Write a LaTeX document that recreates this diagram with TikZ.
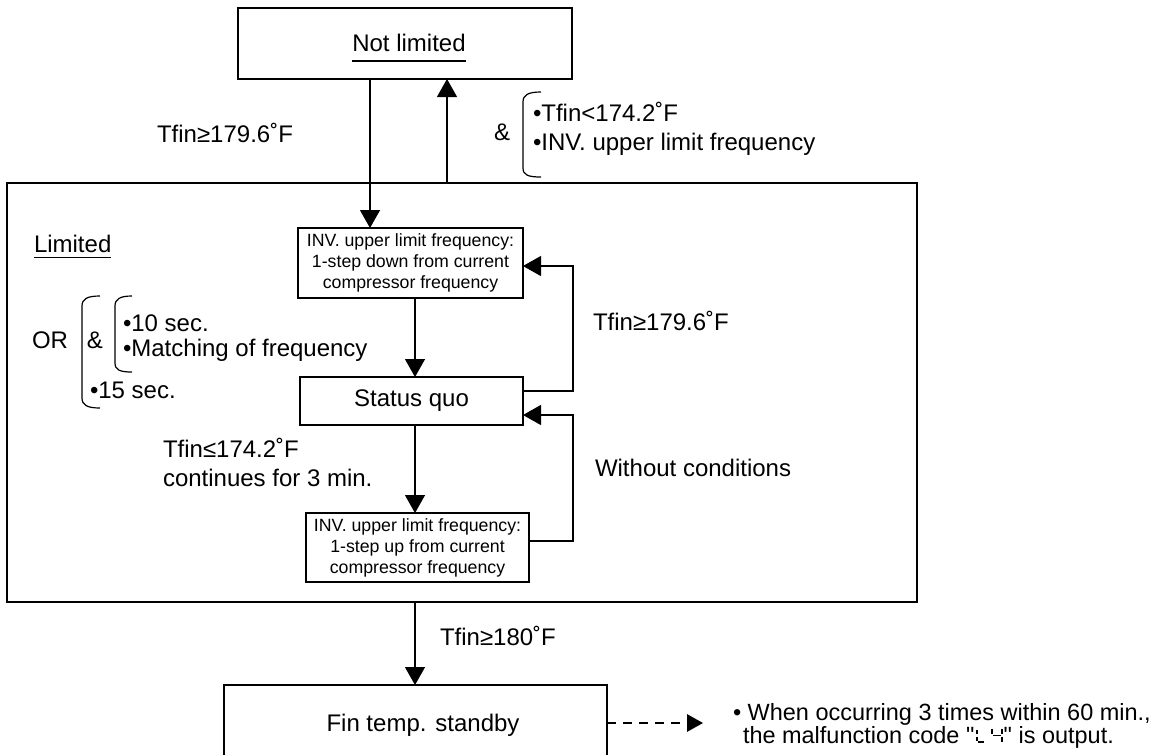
\documentclass[tikz,border=0pt]{standalone}
\usepackage{fontspec}
\setmainfont{Liberation Sans}
\usetikzlibrary{arrows.meta,calc}

\begin{document}
\begin{tikzpicture}[x=0.75pt,y=-0.75pt,
  every node/.style={inner sep=0pt, outer sep=0pt},
  lbl/.style={font=\fontsize{18}{21}\selectfont},
  note/.style={font=\fontsize{17.6}{20}\selectfont},
  small/.style={font=\fontsize{13.3}{15.75}\selectfont, align=center},
  box/.style={draw, line width=1.1pt},
  conn/.style={line width=1pt},
  arr/.style={conn, -{Triangle[length=13.5pt,width=15pt]}},
  dasharr/.style={line width=1.5pt, dash pattern=on 7pt off 5pt, -{Triangle[length=12pt,width=13pt]}},
  brace/.style={line width=0.9pt},
  seg/.style={line width=1.4pt},
]
\useasboundingbox (0,0) rectangle (1171,754);

% ---- boxes ----
\node[box, minimum width=250.5pt, minimum height=53.25pt] (nl) at (405,43.5) {};
\node[lbl, anchor=base] (nltxt) at (409,51) {Not limited};
\draw[line width=1pt] ([yshift=-7.5pt]nltxt.base west) -- ([yshift=-7.5pt]nltxt.base east);

\node[box, minimum width=682.5pt, minimum height=314.25pt] (lim) at (462,392.5) {};
\node[lbl, anchor=base west] (limtxt) at (34,252) {Limited};
\draw[line width=1pt] ([yshift=-4pt]limtxt.base west) -- ([yshift=-4pt]limtxt.base east);

\node[box, small, minimum width=168.75pt, minimum height=52.5pt] (inv1) at (410.5,263)
  {INV. upper limit frequency:\\1-step down from current\\compressor frequency};
\node[box, lbl, minimum width=167.25pt, minimum height=36pt] (sq) at (411.5,401) {Status quo};
\node[box, small, minimum width=167.25pt, minimum height=51.75pt] (inv2) at (417.5,547.5)
  {INV. upper limit frequency:\\1-step up from current\\compressor frequency};

\node[box, minimum width=287.25pt, minimum height=63.75pt] (fin) at (415.5,727.5) {};
\node[lbl, anchor=base] (fintxt) at (423,731) {Fin temp. standby};

% ---- connectors ----
\coordinate (xa) at (370,0);
\coordinate (xb) at (447,0);
\coordinate (xc) at (415,0);
\coordinate (xr) at (573,0);
\coordinate (ya) at (0,391);
\coordinate (yb) at (0,266);
\coordinate (yc) at (0,541);
\coordinate (yd) at (0,415);
\coordinate (ye) at (0,723);
\coordinate (tip) at (703,723);

\draw[arr] (xa |- nl.south) -- (xa |- inv1.north);
\draw[arr] (xb |- lim.north) -- (xb |- nl.south);
\draw[arr] (xc |- inv1.south) -- (xc |- sq.north);
\draw[arr] (xc |- sq.south) -- (xc |- inv2.north);
\draw[arr] (sq.east |- ya) -- (xr |- ya) -- (xr |- yb) -- (inv1.east |- yb);
\draw[arr] (inv2.east |- yc) -- (xr |- yc) -- (xr |- yd) -- (sq.east |- yd);
\draw[arr] (xc |- lim.south) -- (xc |- fin.north);
\draw[dasharr] (fin.east |- ye) -- (tip);

% ---- labels ----
\node[lbl, anchor=base] (t1) at (225,142) {Tfin≥179.6˚F};
\node[lbl, anchor=base] (amp1) at (502,140) {\&};
\node[lbl, anchor=base west] (c1) at (533,121) {•Tfin<174.2˚F};
\node[lbl, anchor=base west] (c2) at (533,150) {•INV. upper limit frequency};
\draw[brace] (541,92) .. controls (528,92) and (523,95) .. (523,102) -- (523,168)
  .. controls (523,175) and (528,177) .. (541,177);

\node[lbl, anchor=base] (or) at (50,348) {OR};
\node[lbl, anchor=base] (amp2) at (95,348) {\&};
\draw[brace] (100,296) .. controls (87,296) and (82,299) .. (82,306) -- (82,398)
  .. controls (82,405) and (87,408) .. (100,408);
\draw[brace] (132,296) .. controls (120,296) and (115,299) .. (115,306) -- (115,363)
  .. controls (115,370) and (120,372) .. (132,372);
\node[lbl, anchor=base west] (o1) at (123,331) {•10 sec.};
\node[lbl, anchor=base west] (o2) at (123,356) {•Matching of frequency};
\node[lbl, anchor=base west] (o3) at (90,398) {•15 sec.};

\node[lbl, anchor=base west] (t2) at (593,330) {Tfin≥179.6˚F};
\node[lbl, anchor=base west] (t3) at (595,476) {Without conditions};
\node[lbl, anchor=base west] (t4) at (163,457) {Tfin≤174.2˚F};
\node[lbl, anchor=base west] (t5) at (163,486) {continues for 3 min.};
\node[lbl, anchor=base west] (t6) at (440,645) {Tfin≥180˚F};

% ---- note with segment-display code ----
\node[note, anchor=base west] (n1) at (733,720) {• When occurring 3 times within 60 min.,};
\node[note, anchor=base west] (n2a) at (743,743) {the malfunction code \textquotedbl};
\node[note, anchor=base west, minimum width=22pt] (code) at (n2a.base east) {\strut};
\node[note, anchor=base west] (n2b) at (code.base east) {\textquotedbl\ is output.};
\begin{scope}[shift={(code.base west)}, seg]
  % L
  \draw (3,-13) -- (3,-9);
  \draw (3,-6.5) -- (3,-2);
  \draw (4,-0.7) -- (10,-0.7);
  % 4
  \draw (18,-14) -- (18,-9);
  \draw (19,-7.5) -- (27,-7.5);
  \draw (28,-14) -- (28,-9);
  \draw (28,-6.5) -- (28,-1);
\end{scope}
\end{tikzpicture}
\end{document}
